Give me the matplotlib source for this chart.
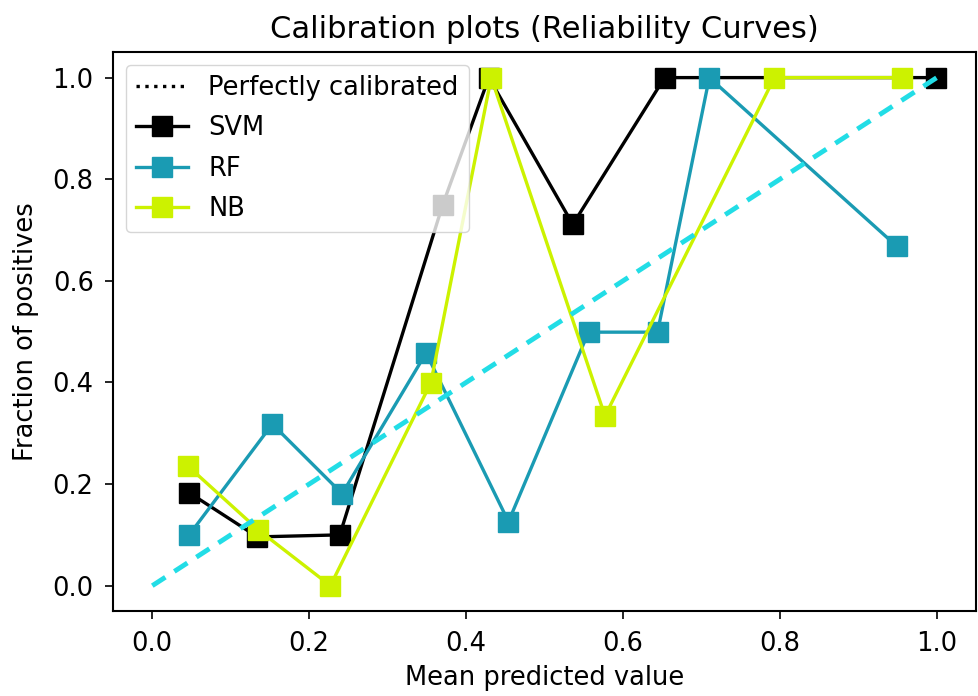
import matplotlib
matplotlib.use("Agg")
import matplotlib.pyplot as plt

# Reliability curve data (mean predicted value, fraction of positives)
svm_x = [0.047, 0.134, 0.239, 0.370, 0.429, 0.536, 0.653, 0.999]
svm_y = [0.183, 0.096, 0.100, 0.749, 1.000, 0.711, 1.000, 1.000]

rf_x = [0.047, 0.153, 0.242, 0.349, 0.454, 0.556, 0.644, 0.710, 0.949]
rf_y = [0.100, 0.318, 0.181, 0.458, 0.126, 0.499, 0.499, 1.000, 0.668]

nb_x = [0.045, 0.135, 0.227, 0.355, 0.432, 0.577, 0.793, 0.955]
nb_y = [0.236, 0.110, 0.000, 0.399, 1.000, 0.334, 1.000, 1.000]

diag = [0, 1]

fig = plt.figure(figsize=(9.79, 6.96), dpi=100)
ax = fig.add_axes([0.1155, 0.122, 0.8815, 0.803])

# legend entry for the reference line (drawn in cyan below)
ax.plot([], [], "k:", lw=2.4, label="Perfectly calibrated")
ax.plot(svm_x, svm_y, "s-", color="black", lw=2.4, ms=15, label="SVM")
ax.plot(rf_x, rf_y, "s-", color="#1a9bb3", lw=2.4, ms=15, label="RF")
ax.plot(nb_x, nb_y, "s-", color="#ccf200", lw=2.4, ms=15, label="NB")
ax.plot(diag, diag, "--", color="#22dde6", lw=3.5, dashes=(3.2, 2.2))

ax.set_xlim(-0.05, 1.05)
ax.set_ylim(-0.05, 1.05)
ax.set_xticks([0.0, 0.2, 0.4, 0.6, 0.8, 1.0])
ax.set_yticks([0.0, 0.2, 0.4, 0.6, 0.8, 1.0])
ax.tick_params(labelsize=18.5, length=6, width=1.2, pad=8)
for s in ax.spines.values():
    s.set_linewidth(1.5)

ax.set_xlabel("Mean predicted value", fontsize=18.5, labelpad=6)
ax.set_ylabel("Fraction of positives", fontsize=18.5, labelpad=10)
ax.set_title("Calibration plots (Reliability Curves)", fontsize=22, pad=10)
leg = ax.legend(loc="upper left", fontsize=18.5, framealpha=0.8,
                handlelength=2.0, borderpad=0.4, labelspacing=0.55,
                borderaxespad=0.5, handletextpad=0.8)
leg.get_frame().set_edgecolor("#cccccc")

fig.savefig("out.png", dpi=100)
